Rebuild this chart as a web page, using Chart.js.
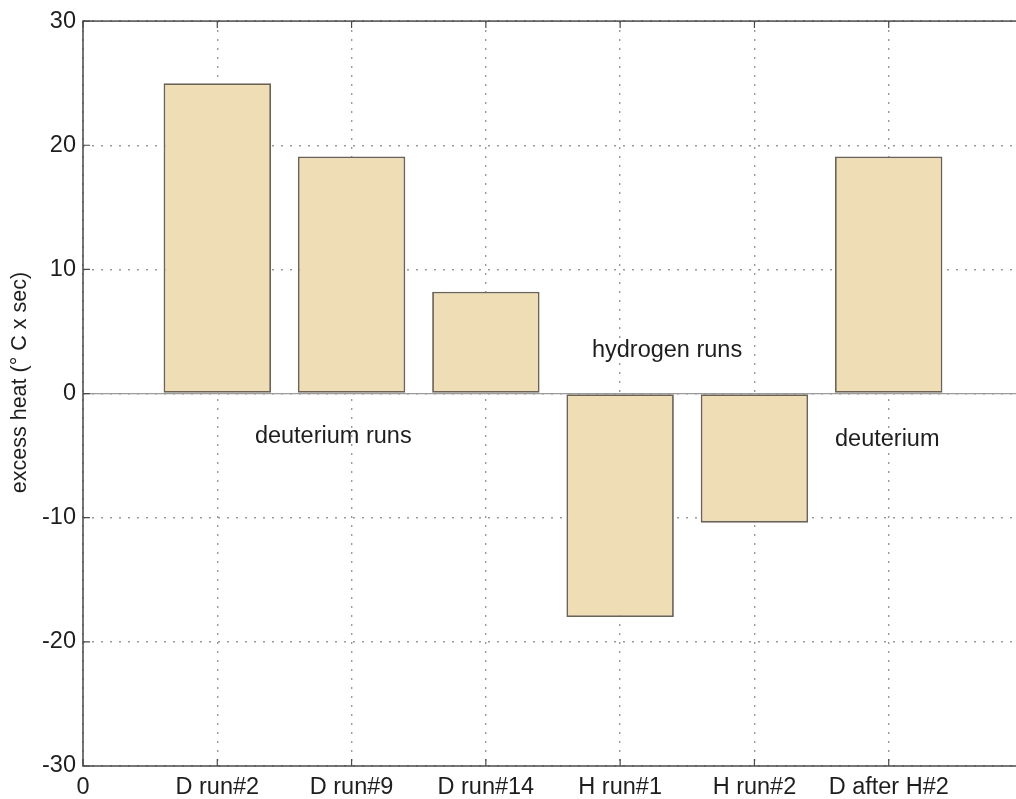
<!DOCTYPE html>
<html>
<head>
<meta charset="utf-8">
<script src="https://cdn.jsdelivr.net/npm/chart.js@4.4.1/dist/chart.umd.min.js"></script>
<style>
  html, body { margin: 0; padding: 0; background: #fff; overflow: hidden; }
  #wrap { width: 1030px; height: 799px; }
</style>
</head>
<body>
<div id="wrap"><canvas id="c" width="1030" height="799"></canvas></div>
<script>
// Excess heat per electrolysis run
const categories = ['D run#2', 'D run#9', 'D run#14', 'H run#1', 'H run#2', 'D after H#2'];
const excessHeat = [25.0, 19.1, 8.2, -18.0, -10.4, 19.1];
const xTickLabels = ['0', 'D run#2', 'D run#9', 'D run#14', 'H run#1', 'H run#2', 'D after H#2', ''];
const yTickValues = [-30, -20, -10, 0, 10, 20, 30];
const notes = [
  { text: 'deuterium runs', x: 1.28, y: -3.5 },
  { text: 'hydrogen runs', x: 3.79, y: 3.5 },
  { text: 'deuterium', x: 5.6, y: -3.7 }
];
const yTitle = 'excess heat (\u00B0 C x sec)';

const FONT = '"Liberation Sans", Arial, Helvetica, sans-serif';
const AXIS_COLOR = '#4a4a4a';
const TEXT_COLOR = '#1e1e1e';

// Frame, inward tick marks, zero baseline, text notes and y title
const decorations = {
  id: 'decorations',
  afterDatasetsDraw(chart) {
    const { ctx, chartArea: a, scales: { x, y } } = chart;
    ctx.save();
    // zero baseline
    const y0 = y.getPixelForValue(0);
    ctx.strokeStyle = '#9b9b9b';
    ctx.lineWidth = 1.2;
    ctx.beginPath();
    ctx.moveTo(a.left, y0);
    ctx.lineTo(a.right, y0);
    ctx.stroke();

    // box
    ctx.strokeStyle = AXIS_COLOR;
    ctx.lineWidth = 1.5;
    ctx.strokeRect(a.left, a.top, a.right - a.left, a.bottom - a.top);

    // inward ticks
    const tl = 7;
    ctx.lineWidth = 1.2;
    ctx.beginPath();
    x.ticks.forEach(t => {
      const px = x.getPixelForValue(t.value);
      ctx.moveTo(px, a.bottom); ctx.lineTo(px, a.bottom - tl);
      ctx.moveTo(px, a.top); ctx.lineTo(px, a.top + tl);
    });
    y.ticks.forEach(t => {
      const py = y.getPixelForValue(t.value);
      ctx.moveTo(a.left, py); ctx.lineTo(a.left + tl, py);
      ctx.moveTo(a.right, py); ctx.lineTo(a.right - tl, py);
    });
    ctx.stroke();

    // notes placed in data units
    ctx.fillStyle = TEXT_COLOR;
    ctx.font = '23.5px ' + FONT;
    ctx.textAlign = 'left';
    ctx.textBaseline = 'middle';
    notes.forEach(n => {
      ctx.fillText(n.text, x.getPixelForValue(n.x), y.getPixelForValue(n.y));
    });

    // y axis title
    ctx.font = '21.5px ' + FONT;
    ctx.textAlign = 'center';
    ctx.translate(a.left - 63, (a.top + a.bottom) / 2 - 11);
    ctx.rotate(-Math.PI / 2);
    ctx.fillText(yTitle, 0, 0);
    ctx.restore();
  }
};

new Chart(document.getElementById('c'), {
  type: 'bar',
  data: {
    datasets: [{
      data: categories.map((c, i) => ({ x: i + 1, y: excessHeat[i] })),
      backgroundColor: 'rgb(239, 221, 182)',
      borderColor: 'rgb(108, 99, 87)',
      borderWidth: 1.8,
      borderSkipped: false,
      barPercentage: 0.8,
      categoryPercentage: 1.0
    }]
  },
  options: {
    responsive: false,
    animation: false,
    devicePixelRatio: 1,
    layout: { padding: { top: 20, right: 7, bottom: 0, left: 0 } },
    plugins: { legend: { display: false }, tooltip: { enabled: false } },
    scales: {
      x: {
        type: 'linear',
        min: 0,
        max: 7,
        offset: false,
        afterFit(s) { s.height = 33; },
        afterBuildTicks(s) { s.ticks = xTickLabels.map((_, i) => ({ value: i })); },
        ticks: {
          autoSkip: false,
          maxRotation: 0,
          padding: 7,
          color: TEXT_COLOR,
          font: { family: FONT, size: 23.5 },
          callback: v => xTickLabels[v]
        },
        grid: { offset: false, color: '#9a9a9a', lineWidth: 1.4, drawTicks: false },
        border: { display: false, dash: [2, 7] }
      },
      y: {
        min: -30,
        max: 30,
        afterFit(s) { s.width = 83; },
        afterBuildTicks(s) { s.ticks = yTickValues.map(v => ({ value: v })); },
        ticks: {
          padding: 7,
          color: TEXT_COLOR,
          font: { family: FONT, size: 23.5 }
        },
        grid: { color: '#9a9a9a', lineWidth: 1.4, drawTicks: false },
        border: { display: false, dash: [2, 7] }
      }
    }
  },
  plugins: [decorations]
});
</script>
</body>
</html>
